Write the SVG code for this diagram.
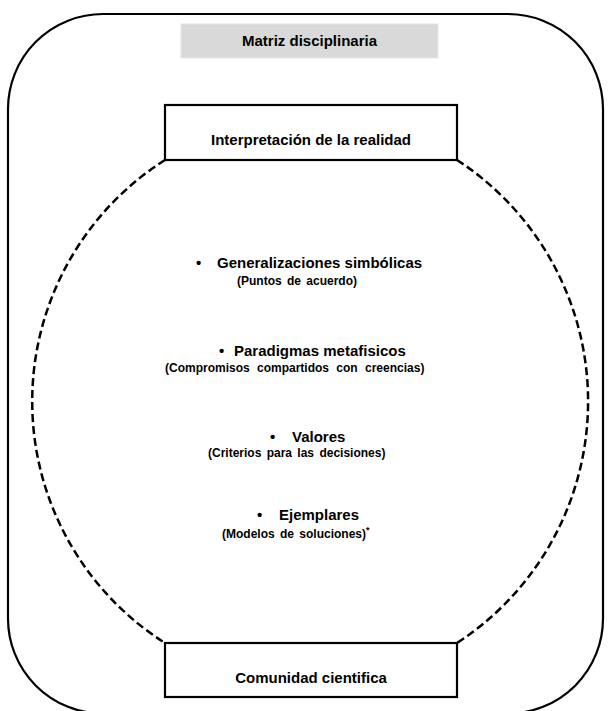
<svg xmlns="http://www.w3.org/2000/svg" width="608" height="711" viewBox="0 0 608 711">
  <style>
    .t { font-family: "Liberation Sans", Arial, sans-serif; font-weight: bold; fill: #000; }
    .h { font-size: 15px; }
    .s { font-size: 12px; word-spacing: 2px; }
    .box { fill: #fff; stroke: #000; stroke-width: 2.2; }
    .dash { fill: none; stroke: #000; stroke-width: 2.5; stroke-dasharray: 8 4; }
  </style>
  <rect width="608" height="711" fill="#fff"/>
  <g id="matriz-frame">
    <rect x="8" y="14" width="595" height="699.5" rx="95" ry="95" fill="none" stroke="#000" stroke-width="2.2"/>
  </g>
  <g id="connectors">
    <path class="dash" d="M165,160 A286,286 0 0 0 165,643"/>
    <path class="dash" d="M457,160 A288,288 0 0 1 457,643"/>
  </g>
  <g id="matriz-disciplinaria">
    <rect x="181" y="24" width="257" height="34" fill="#d9d9d9" stroke="#e6e6e6" stroke-width="1"/>
    <text class="t h" x="309.5" y="46" text-anchor="middle">Matriz disciplinaria</text>
  </g>
  <g id="interpretacion">
    <rect class="box" x="165" y="105" width="292" height="55"/>
    <text class="t h" x="311" y="145" text-anchor="middle">Interpretación de la realidad</text>
  </g>
  <g id="comunidad">
    <rect class="box" x="165" y="643" width="292" height="54"/>
    <text class="t h" x="311" y="683" text-anchor="middle">Comunidad cientifica</text>
  </g>
  <g id="generalizaciones">
    <text class="t h" y="268"><tspan x="196">•</tspan><tspan x="217">Generalizaciones simbólicas</tspan></text>
    <text class="t s" x="237" y="285">(Puntos de acuerdo)</text>
  </g>
  <g id="paradigmas">
    <text class="t h" y="356"><tspan x="219">•</tspan><tspan x="234">Paradigmas metafisicos</tspan></text>
    <text class="t s" x="165" y="372" style="word-spacing:4px">(Compromisos compartidos con creencias)</text>
  </g>
  <g id="valores">
    <text class="t h" y="442"><tspan x="270">•</tspan><tspan x="292">Valores</tspan></text>
    <text class="t s" x="208" y="457">(Criterios para las decisiones)</text>
  </g>
  <g id="ejemplares">
    <text class="t h" y="520"><tspan x="257">•</tspan><tspan x="279">Ejemplares</tspan></text>
    <text class="t s" x="222" y="538">(Modelos de soluciones)<tspan font-size="9" dy="-5">*</tspan></text>
  </g>
</svg>
